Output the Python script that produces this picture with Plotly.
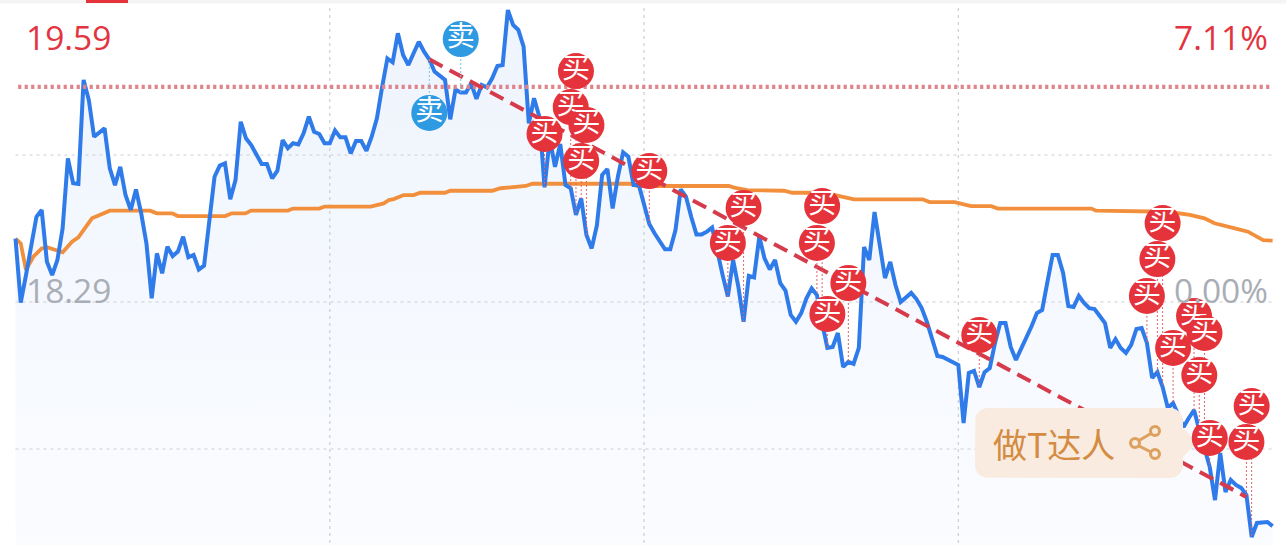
import math
import plotly.graph_objects as go

# ---------- data ----------
price = [18.570,18.287,18.409,18.527,18.667,18.697,18.468,18.409,18.476,18.616,
18.925,18.815,18.812,19.272,19.183,19.021,19.039,19.058,18.881,18.807,
18.888,18.763,18.697,18.788,18.682,18.549,18.306,18.505,18.417,18.535,
18.493,18.513,18.579,18.488,18.498,18.434,18.451,18.653,18.844,18.893,
18.903,18.745,18.829,19.087,19.014,18.984,18.940,18.900,18.900,18.837,
18.871,19.006,18.970,18.992,18.987,19.036,19.110,19.043,19.033,18.992,
18.992,19.048,19.018,19.018,18.947,19.002,19.002,18.959,19.021,19.102,
19.242,19.367,19.350,19.478,19.382,19.338,19.390,19.441,19.397,19.363,
19.309,19.289,19.272,19.098,19.230,19.216,19.216,19.257,19.188,19.250,
19.239,19.279,19.334,19.338,19.581,19.515,19.493,19.419,19.080,19.191,
19.110,18.797,19.014,18.888,18.989,18.807,18.793,18.675,18.748,18.586,
18.527,18.630,18.852,18.878,18.704,18.844,18.952,18.933,18.807,18.807,
18.726,18.635,18.594,18.557,18.523,18.523,18.608,18.788,18.756,18.667,
18.589,18.589,18.601,18.619,18.505,18.409,18.314,18.476,18.358,18.203,
18.406,18.399,18.579,18.483,18.434,18.476,18.373,18.340,18.233,18.203,
18.241,18.306,18.350,18.321,18.197,18.087,18.091,18.153,18.003,18.025,
18.016,18.087,18.533,18.476,18.688,18.542,18.396,18.467,18.365,18.290,
18.312,18.330,18.303,18.263,18.202,18.122,18.051,18.047,18.034,18.020,
18.011,17.755,17.976,17.985,17.914,17.980,17.998,18.109,18.197,18.197,
18.091,18.034,18.082,18.131,18.184,18.241,18.255,18.378,18.498,18.498,
18.418,18.272,18.268,18.317,18.286,18.263,18.259,18.228,18.197,18.087,
18.126,18.087,18.065,18.100,18.171,18.175,18.109,17.954,17.980,17.914,
17.821,17.843,17.790,17.737,17.777,17.812,17.724,17.636,17.560,17.414,
17.622,17.450,17.503,17.481,17.468,17.437,17.251,17.313,17.317,17.317,
17.299]
minutes = list(range(len(price)))

avg_minutes = [0,1,2,3.4,5,6,9,10.8,12,14.6,18,25.7,27,29.9,31,40,41.3,43.9,45,52,53,58,59,67.8,
70.3,71.3,72.2,74.1,76,77.3,79.2,82,83,91,92.6,97.4,98.7,117.4,118.7,136.2,137.2,139.7,146.7,148.3,
154.4,158.2,160.1,173.2,174.5,179.3,182.4,186.3,187.5,205.4,206.3,220,224.2,227,228.9,232.8,235.3,238.2,240]
avg_price = [18.570,18.549,18.432,18.490,18.527,18.532,18.510,18.557,18.576,18.660,18.694,18.694,18.682,18.682,
18.670,18.670,18.682,18.682,18.694,18.694,18.703,18.703,18.712,18.712,18.726,18.741,18.745,18.763,18.763,18.773,
18.773,18.773,18.782,18.782,18.793,18.803,18.813,18.813,18.803,18.803,18.796,18.785,18.782,18.773,18.773,18.756,
18.744,18.744,18.732,18.732,18.714,18.714,18.703,18.703,18.694,18.689,18.675,18.660,18.638,18.616,18.601,18.564,18.561]

ref_price = 19.241
trend_minutes = [79, 235]
trend_prices = [19.363, 17.428]

buy_minutes = [107,106,109,101,108,121,139,136,154,153,159,155,184,219,218,216,225,227,221,226,236,235,228]
buy_label_prices = [19.311,19.152,19.073,19.033,18.913,18.869,18.706,18.551,18.714,18.551,18.374,18.237,18.144,
18.639,18.480,18.317,18.228,18.153,18.087,17.967,17.830,17.671,17.689]
sell_minutes = [85,79]
sell_label_prices = [19.453,19.126]

grid_prices = [18.94,18.29,17.64]
grid_minutes = [60,120,180]

label_high = "19.59"
label_base = "18.29"
label_pct_high = "7.11%"
label_pct_base = "0.00%"
badge_text = "做T达人"
buy_text = "买"
sell_text = "卖"

# ---------- frame ----------
W, H = 1286, 545
PX_M, PX_X0 = 5.238, 15.5
PY_P, PY_Y0 = 0.004422, 302
xr = [(0 - PX_X0) / PX_M, (W - PX_X0) / PX_M]
yr = [18.29 - (H - PY_Y0) * PY_P, 18.29 + PY_Y0 * PY_P]
def dx(px): return (px - PX_X0) / PX_M
def dy(py): return 18.29 + (PY_Y0 - py) * PY_P

RED, BLUE_B = "#e5333c", "#2e9ae2"
fig = go.Figure()

# area
fig.add_trace(go.Scatter(x=minutes, y=price, mode="lines", line=dict(width=0), fill="tozeroy",
    fillgradient=dict(type="vertical", start=17.2, stop=19.6,
                      colorscale=[[0, "#fbfcff"], [1, "#eef4fd"]]),
    hoverinfo="skip"))

# grid
gx, gy = [], []
for p in grid_prices:
    gx += [0, 240, None]; gy += [p, p, None]
for m in grid_minutes:
    gx += [m, m, None]; gy += [19.59, yr[0], None]
fig.add_trace(go.Scatter(x=gx, y=gy, mode="lines", hoverinfo="skip",
    line=dict(color="#c9ced6", width=1.2, dash="3px,4px")))

# avg and price
fig.add_trace(go.Scatter(x=avg_minutes, y=avg_price, mode="lines", hoverinfo="skip",
    line=dict(color="#f28f3c", width=3.8)))
fig.add_trace(go.Scatter(x=minutes, y=price, mode="lines", hoverinfo="skip",
    line=dict(color="#2f7bea", width=4, shape="linear")))

# reference + trend
fig.add_trace(go.Scatter(x=[0.5, 240], y=[ref_price, ref_price], mode="lines", hoverinfo="skip",
    line=dict(color="#e0848b", width=4.2, dash="3.2px,3.3px")))
fig.add_trace(go.Scatter(x=trend_minutes, y=trend_prices, mode="lines", hoverinfo="skip",
    line=dict(color="#d63b4c", width=4, dash="15px,8px")))

# stems
sx, sy = [], []
for m, p in zip(buy_minutes, buy_label_prices):
    sx += [m, m, None]; sy += [p, price[m], None]
fig.add_trace(go.Scatter(x=sx, y=sy, mode="lines", hoverinfo="skip",
    line=dict(color="#e0606a", width=1, dash="2px,2px")))
sx, sy = [], []
for m, p in zip(sell_minutes, sell_label_prices):
    sx += [m, m, None]; sy += [p, price[m], None]
fig.add_trace(go.Scatter(x=sx, y=sy, mode="lines", hoverinfo="skip",
    line=dict(color="#7cc0ee", width=1, dash="2px,2px")))

# badge body
L, T, R, B, RAD = 975, 408, 1183, 478, 13
pts = []
for cx, cy, a0 in [(R - RAD, T + RAD, -90), (R - RAD, B - RAD, 0), (L + RAD, B - RAD, 90), (L + RAD, T + RAD, 180)]:
    for k in range(7):
        a = math.radians(a0 + k * 15)
        pts.append((cx + RAD * math.cos(a), cy + RAD * math.sin(a)))
    if a0 == -90:
        pts += [(R, 428), (1197, 442), (R, 457)]
fig.add_trace(go.Scatter(x=[dx(a) for a, b in pts] + [dx(pts[0][0])], y=[dy(b) for a, b in pts] + [dy(pts[0][1])],
    mode="lines", fill="toself", fillcolor="#f9ebdf", line=dict(width=0), hoverinfo="skip"))

# bubbles
CJK = "Noto Sans CJK SC"
def bubble(m, p, color, text):
    fig.add_trace(go.Scatter(x=[m], y=[p], mode="markers+text", text=[text], textposition="middle center",
        marker=dict(size=36, color=color, line=dict(width=0)),
        textfont=dict(family=CJK, size=28, color="#ffffff"), hoverinfo="skip"))
for m, p in zip(sell_minutes, sell_label_prices):
    bubble(m, p, BLUE_B, sell_text)
for m, p in zip(buy_minutes, buy_label_prices):
    bubble(m, p, RED, buy_text)

# texts
def label(px, py, text, color, anchor, size=33.5, family="Open Sans"):
    fig.add_annotation(x=px / W, y=1 - py / H, xref="paper", yref="paper", text=text, showarrow=False,
        xanchor=anchor, yanchor="middle", font=dict(family=family, size=size, color=color), borderpad=0, borderwidth=0)
label(26, 37, label_high, "#e2353f", "left")
label(26, 290, label_base, "#a9aeb6", "left")
label(1268, 37, label_pct_high, "#e2353f", "right")
label(1268, 290, label_pct_base, "#a9aeb6", "right")
label(993, 443, badge_text, "#d38c42", "left", size=34, family=CJK)

# share icon + top strip
ICON = "#dca15e"
shapes = []
def paper(px, py): return px / W, 1 - py / H
for (ax, ay), (bx, by) in [((1151, 433.5), (1139, 440.5)), ((1139, 446), (1151, 452))]:
    x0, y0 = paper(ax, ay); x1, y1 = paper(bx, by)
    shapes.append(dict(type="line", xref="paper", yref="paper", x0=x0, y0=y0, x1=x1, y1=y1, line=dict(color=ICON, width=3)))
for cx, cy in [(1155, 431), (1135, 443), (1155, 454)]:
    x0, y0 = paper(cx - 4.5, cy + 4.5); x1, y1 = paper(cx + 4.5, cy - 4.5)
    shapes.append(dict(type="circle", xref="paper", yref="paper", x0=x0, y0=y0, x1=x1, y1=y1, line=dict(color=ICON, width=3), fillcolor="#f9ebdf"))
shapes.append(dict(type="rect", xref="paper", yref="paper", x0=0, x1=1, y0=1 - 3.5 / H, y1=1, line=dict(width=0), fillcolor="#f4f4f5"))
shapes.append(dict(type="rect", xref="paper", yref="paper", x0=86 / W, x1=128 / W, y0=1 - 3 / H, y1=1, line=dict(width=0), fillcolor="#e5333c"))

fig.update_layout(width=W, height=H, margin=dict(l=0, r=0, t=0, b=0), showlegend=False,
    paper_bgcolor="#ffffff", plot_bgcolor="#ffffff", shapes=shapes,
    xaxis=dict(range=xr, visible=False, fixedrange=True),
    yaxis=dict(range=yr, visible=False, fixedrange=True))

fig.write_html("out.html", config=dict(displayModeBar=False),
    post_script="document.body.style.margin='0';document.documentElement.style.overflow='hidden';")
